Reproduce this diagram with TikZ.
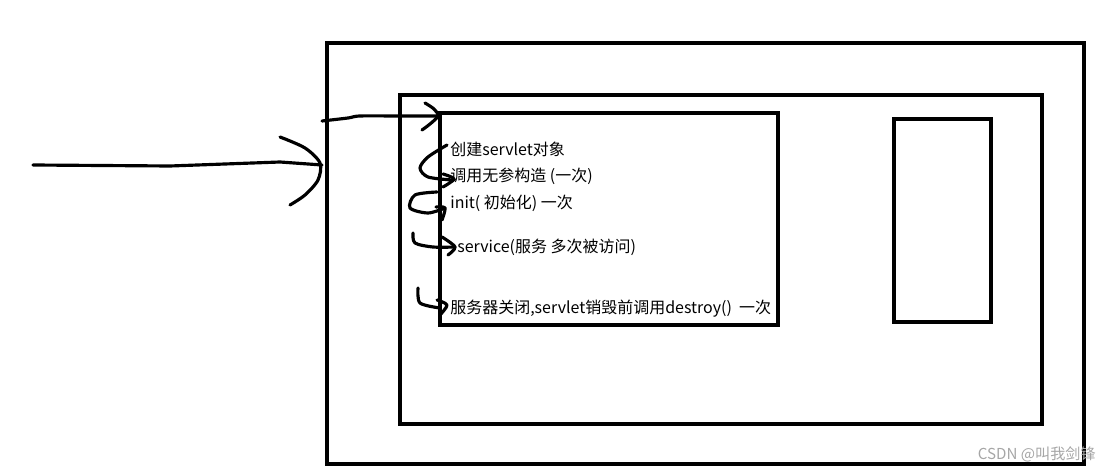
\documentclass[tikz,border=0pt]{standalone}
\usepackage{fontspec}
\setmainfont{Noto Sans CJK SC}
\usetikzlibrary{positioning}

\tikzset{
  box/.style={draw, line width=2.6pt, minimum width=#1, inner sep=0pt},
  hand/.style={line width=1.8pt, line cap=round, line join=round},
  lbl/.style={anchor=west, inner sep=0pt, font=\fontsize{9.1pt}{11pt}\selectfont},
}

\begin{document}
\begin{tikzpicture}[x=0.02cm, y=-0.02cm]
  \useasboundingbox (0,0) rectangle (1111,472);

  % boxes
  \node (outer) [box=15.14cm, minimum height=8.42cm] at (705.5,253.5) {};
  \node (middle) [box=12.84cm, minimum height=6.58cm] at (721,259.5) {};
  \node (inner) [box=6.76cm, minimum height=4.24cm] at (609,219) {};
  \node (right) [box=1.94cm, minimum height=4.06cm] at (942.5,220.5) {};

  % texts
  \node (create) [lbl] at (450,149) {创建servlet对象};
  \node (ctor) [lbl] at (450,176) {调用无参构造 (一次)};
  \node (init) [lbl] at (450,203) {init( 初始化) 一次};
  \node (service) [lbl] at (457,247) {service(服务 多次被访问)};
  \node (destroy) [lbl] at (450,309) {服务器关闭,servlet销毁前调用destroy()~~一次};

  \node (mark) [anchor=east, inner sep=0pt, text=gray!70, font=\fontsize{8.6pt}{10pt}\selectfont] at (1096,454) {CSDN @叫我剑锋};

  % hand drawn arrows
  \coordinate (start) at (33,165);
  \draw[hand] (start) -- (170,166) -- (280,162) -- (322,165);
  \draw[hand] plot[smooth] coordinates {(280,137) (305,148) (320,163) (318,180) (305,195) (290,205)};

  \draw[hand] plot[smooth] coordinates {(322,121) (348,118) (360,116) (400,116) (438,116)};
  \draw[hand] plot[smooth] coordinates {(425,103) (434,109) (438,116) (430,124) (422,130)};

  % squiggles
  \draw[hand] plot[smooth] coordinates {(447,145) (428,157) (420,168) (428,177) (452,180)};
  \draw[hand] plot[smooth] coordinates {(443,174) (454,179) (443,187)};
  \draw[hand] plot[smooth] coordinates {(437,192) (415,195) (410,208) (428,213) (445,208)};
  \draw[hand] plot[smooth] coordinates {(436,207) (445,208) (442,220)};
  \draw[hand] plot[smooth] coordinates {(413,233) (415,243) (433,247) (455,247)};
  \draw[hand] plot[smooth] coordinates {(442,237) (455,247) (448,255)};
  \draw[hand] plot[smooth] coordinates {(418,288) (420,303) (440,308)};
  \draw[hand] plot[smooth] coordinates {(437,300) (447,305) (440,315)};
\end{tikzpicture}
\end{document}
